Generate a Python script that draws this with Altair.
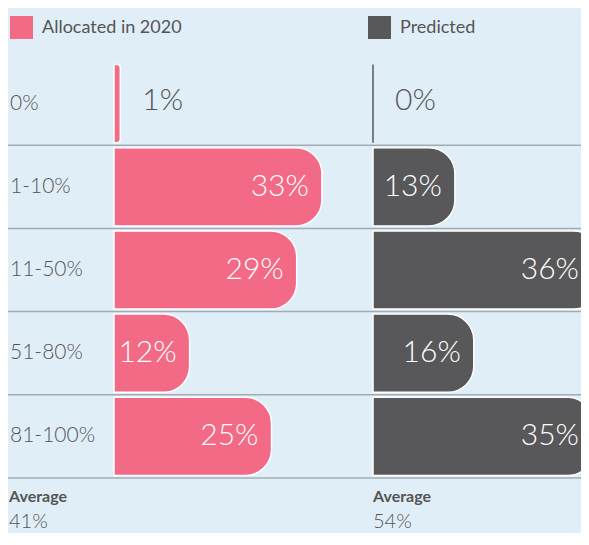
import altair as alt
import pandas as pd

# ---- data ----
rows = ["0%", "1-10%", "11-50%", "51-80%", "81-100%"]
allocated = [1, 33, 29, 12, 25]
predicted = [0, 13, 36, 16, 35]
series_names = ["Allocated in 2020", "Predicted"]
series_colors = ["#f26a85", "#58585a"]
averages = [41, 54]

# ---- layout constants (chart coords = page coords - 8) ----
W, H = 573, 525
PX_PER_UNIT = 6.3
PINK_BASE_PX = 106
PRED_BASE_PX = 365
LO = -PINK_BASE_PX / PX_PER_UNIT
HI = LO + W / PX_PER_UNIT
PRED_OFFSET = (PRED_BASE_PX - PINK_BASE_PX) / PX_PER_UNIT
LABEL_MAX = HI + 11 / PX_PER_UNIT
FONT = "Lato"
TXT = "#555555"
BG = "#e0eef8"

df = pd.DataFrame({
    "row": rows * 2,
    "series": [series_names[0]] * len(rows) + [series_names[1]] * len(rows),
    "value": allocated + predicted,
})

xscale = alt.Scale(domain=[LO, HI], nice=False, zero=False)
yscale = alt.Scale(domain=rows, range=[54, 470], paddingInner=0, paddingOuter=0)
color = alt.Color(
    "series:N",
    scale=alt.Scale(domain=series_names, range=series_colors),
    legend=alt.Legend(
        title=None, orient="none", legendX=2, legendY=8, direction="horizontal",
        columns=2, columnPadding=186, symbolType="square", symbolSize=529,
        symbolStrokeWidth=0, symbolOpacity=1, labelFontSize=18, labelFont=FONT,
        labelColor=TXT, labelOffset=9, padding=0,
    ),
)

base = alt.Chart(df).transform_calculate(
    start=f"datum.series == '{series_names[1]}' ? {PRED_OFFSET} : 0"
).transform_calculate(
    end="datum.start + datum.value",
    label="datum.value + '%'",
).transform_calculate(
    label_x=f"min(datum.end, {LABEL_MAX})"
)

Y = alt.Y("row:N", scale=yscale, axis=None)

rules = alt.Chart(pd.DataFrame({"row": rows})).mark_rule(
    color="#a3acb5", strokeWidth=1.5
).encode(
    y=alt.Y("row:N", scale=yscale, axis=None, bandPosition=1),
    x=alt.value(-1), x2=alt.value(W),
)

bars = base.mark_bar(
    cornerRadiusTopRight=26, cornerRadiusBottomRight=26, strokeWidth=1.5,
    height={"band": 0.94}, opacity=1,
).encode(
    x=alt.X("start:Q", scale=xscale, axis=None),
    x2="end:Q",
    y=Y,
    color=color,
    stroke=alt.condition("datum.value == 0", alt.value(series_colors[1]), alt.value("white")),
)

inside = base.transform_filter("datum.value >= 5").mark_text(
    align="right", baseline="middle", dx=-13, fontSize=30, font=FONT,
    fontWeight=300, color="white",
).encode(x=alt.X("label_x:Q", scale=xscale), y=Y, text="label:N")

outside = base.transform_filter("datum.value < 5").mark_text(
    align="left", baseline="middle", dx=22, dy=-3, fontSize=30, font=FONT,
    fontWeight=300, color=TXT,
).encode(x=alt.X("end:Q", scale=xscale), y=Y, text="label:N")

row_labels = alt.Chart(pd.DataFrame({"row": rows})).mark_text(
    align="left", baseline="middle", fontSize=21, font=FONT, fontWeight=300, color=TXT,
).encode(y=Y, x=alt.value(2), text="row:N")

avg_df = pd.DataFrame({"series": series_names, "avg": averages})
avg_base = alt.Chart(avg_df).transform_calculate(
    xpos=f"datum.series == '{series_names[1]}' ? {PRED_OFFSET} : {(1 - PINK_BASE_PX) / PX_PER_UNIT}",
    avg_label="datum.avg + '%'",
    word="'Average'",
)
avg_word = avg_base.mark_text(
    align="left", baseline="alphabetic", fontSize=16, font=FONT, fontWeight="bold", color=TXT,
).encode(x=alt.X("xpos:Q", scale=xscale), y=alt.value(494), text="word:N")
avg_num = avg_base.mark_text(
    align="left", baseline="alphabetic", fontSize=20, font=FONT, fontWeight=300, color=TXT,
).encode(x=alt.X("xpos:Q", scale=xscale), y=alt.value(520), text="avg_label:N")

chart = alt.layer(rules, bars, inside, outside, row_labels, avg_word, avg_num).properties(
    width=W, height=H, autosize=alt.AutoSizeParams(type="none"), padding=0,
).configure(background=BG).configure_view(stroke=None)

chart.save("out.html", embed_options={"renderer": "svg", "actions": False})
